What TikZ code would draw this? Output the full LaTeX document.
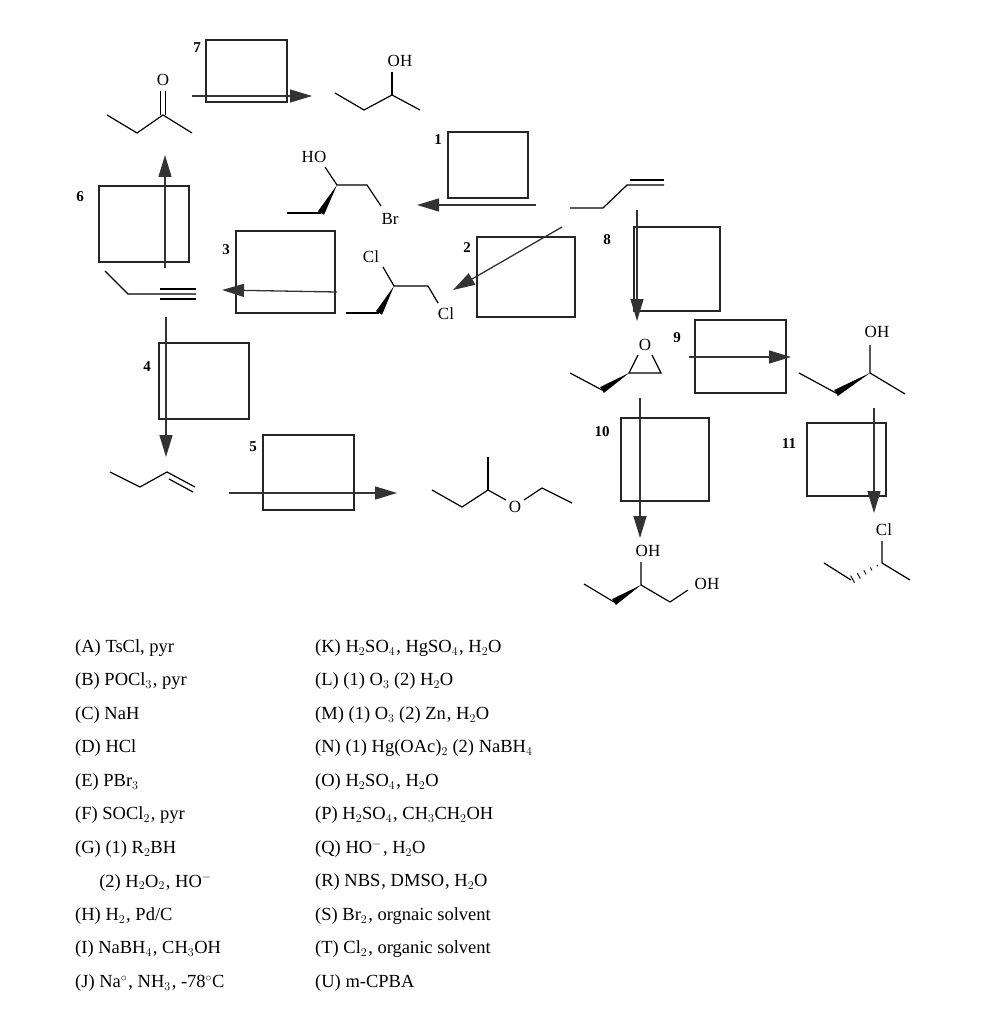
\documentclass[tikz,border=0pt]{standalone}
\usepackage{fontspec}
\setmainfont{Liberation Serif}
\usetikzlibrary{arrows.meta,calc}
\tikzset{
  box/.style={draw=black!85,line width=1.3pt},
  rxn/.style={draw=black!80,line width=1.3pt,-{Triangle[length=22pt,width=13pt]}},
  bond/.style={line width=1.2pt},
  atom/.style={inner sep=0pt,font=\fontsize{17}{17}\selectfont},
  num/.style={inner sep=0pt,font=\fontsize{15}{15}\selectfont\bfseries},
  item/.style={anchor=west,inner sep=0pt,font=\fontsize{18.5}{20}\selectfont}
}
\newcommand{\wedgebond}[2]{\fill (#1) -- ($(#2)!3.5pt!90:(#1)$) -- ($(#2)!3.5pt!-90:(#1)$) -- cycle;}
\newcommand{\hashbond}[2]{\foreach \t/\w in {0.15/0.8,0.35/1.6,0.55/2.4,0.75/3.2,0.95/4}
  {\draw[line width=0.9pt] ($(#1)!\t!(#2)!\w pt!90:(#2)$) -- ($(#1)!\t!(#2)!\w pt!-90:(#2)$);}}
\begin{document}
\begin{tikzpicture}[x=1pt,y=-1pt]
  \useasboundingbox[fill=white] (0,0) rectangle (991,1024);

  % reaction boxes
  \draw[box] (206,40) rectangle (287,102);   \node[num] (n7) at (197,48) {7};
  \draw[box] (448,132) rectangle (528,198);  \node[num] (n1) at (438,140) {1};
  \draw[box] (99,186) rectangle (189,262);   \node[num] (n6) at (80,197) {6};
  \draw[box] (236,231) rectangle (335,313);  \node[num] (n3) at (226,250) {3};
  \draw[box] (477,237) rectangle (575,317);  \node[num] (n2) at (467,248) {2};
  \draw[box] (634,227) rectangle (720,311);  \node[num] (n8) at (607,240) {8};
  \draw[box] (695,320) rectangle (786,393);  \node[num] (n9) at (677,338) {9};
  \draw[box] (159,343) rectangle (249,419);  \node[num] (n4) at (147,367) {4};
  \draw[box] (621,418) rectangle (709,501);  \node[num] (n10) at (602,432) {10};
  \draw[box] (807,423) rectangle (886,496);  \node[num] (n11) at (789,444) {11};
  \draw[box] (263,435) rectangle (354,510);  \node[num] (n5) at (253,447) {5};

  % arrow ends
  \coordinate (a7s) at (192,96);  \coordinate (a7e) at (312,96);
  \coordinate (a1s) at (536,205); \coordinate (a1e) at (417,205);
  \coordinate (a6s) at (165,268); \coordinate (a6e) at (165,155);
  \coordinate (a3s) at (337,292); \coordinate (a3e) at (222,290);
  \coordinate (a2s) at (562,227); \coordinate (a2e) at (453,290);
  \coordinate (a8s) at (637,210); \coordinate (a8e) at (637,321);
  \coordinate (a9s) at (689,357); \coordinate (a9e) at (791,357);
  \coordinate (a4s) at (166,317); \coordinate (a4e) at (166,457);
  \coordinate (a10s) at (640,398); \coordinate (a10e) at (640,538);
  \coordinate (a11s) at (874,408); \coordinate (a11e) at (874,513);
  \coordinate (a5s) at (229,493); \coordinate (a5e) at (397,493);
  \foreach \a in {7,1,6,3,2,8,9,4,10,11,5}
    \draw[rxn] (a\a s) -- (a\a e);

  % butan-2-one
  \node[atom] (ko) at (163,80) {O};
  \draw[bond] (107,115) -- (137,133) -- (163,115) -- (192,133);
  \draw[bond] (160.5,115) -- (160.5,91) (165.5,115) -- (165.5,91);

  % butan-2-ol
  \node[atom] (bo) at (400,61) {OH};
  \draw[bond] (335,93) -- (364,110) -- (392,95) -- (420,110);
  \draw[bond] (392,95) -- (392,72);

  % bromohydrin
  \node[atom] (bho) at (314,157) {HO};
  \node[atom] (bbr) at (390,219) {Br};
  \draw[bond] (287,213) -- (321,213);
  \wedgebond{337,185}{321,213}
  \draw[bond] (325,167) -- (337,185) -- (367,185) -- (381,206);

  % but-1-ene (right)
  \draw[bond] (570,208) -- (603,208) -- (627,185) -- (664,185);
  \draw[bond] (630,180) -- (664,180);

  % but-1-yne
  \draw[bond] (105,271) -- (128,294) -- (196,294);
  \draw[bond] (160,289) -- (196,289) (160,299) -- (196,299);

  % dichloride
  \node[atom] (dc1) at (371,257) {Cl};
  \node[atom] (dc2) at (446,314) {Cl};
  \draw[bond] (346,313) -- (379,313);
  \wedgebond{394,286}{379,313}
  \draw[bond] (383,267) -- (394,286) -- (428,286) -- (438,303);

  % epoxide
  \node[atom] (eo) at (645,345) {O};
  \draw[bond] (570,373) -- (602,390);
  \wedgebond{629,373}{602,390}
  \draw[bond] (638,355) -- (629,373) -- (661,373) -- (652,355);

  % (S)-butan-2-ol
  \node[atom] (so) at (877,332) {OH};
  \draw[bond] (799,373) -- (836,393);
  \wedgebond{870,373}{836,393}
  \draw[bond] (870,373) -- (905,394) (870,373) -- (870,345);

  % diol
  \node[atom] (do1) at (648,551) {OH};
  \node[atom] (do2) at (707,584) {OH};
  \draw[bond] (584,584) -- (614,602);
  \wedgebond{641,585}{614,602}
  \draw[bond] (641,585) -- (641,562) (641,585) -- (670,602) -- (688,590);

  % 2-chlorobutane
  \node[atom] (cc) at (884,530) {Cl};
  \draw[bond] (824,563) -- (851,580);
  \hashbond{882,563}{851,580}
  \draw[bond] (882,563) -- (910,580) (882,563) -- (882,541);

  % but-1-ene (left)
  \draw[bond] (110,472) -- (140,487) -- (167,472) -- (195,487);
  \draw[bond] (169,479) -- (193,492);

  % sec-butyl ethyl ether
  \node[atom] (eto) at (515,507) {O};
  \draw[bond] (432,490) -- (462,507) -- (488,490) -- (506,500);
  \draw[bond] (488,490) -- (488,457);
  \draw[bond] (524,500) -- (542,488) -- (572,503);

  % reagents
  \foreach \txt [count=\i from 0] in {
      {(A) TsCl, pyr}, {(B) POCl$_3$\kern1pt, pyr}, {(C) NaH}, {(D) HCl}, {(E) PBr$_3$},
      {(F) SOCl$_2$\kern1pt, pyr}, {(G) (1) R$_2$BH}, {\hspace*{1.3em}(2) H$_2$O$_2$\kern1pt, HO$^{-}$},
      {(H) H$_2$\kern1pt, Pd/C}, {(I) NaBH$_4$\kern1pt, CH$_3$OH}, {(J) Na$^{\circ}$\kern1pt, NH$_3$\kern1pt, -78$^{\circ}$C}}
    \node[item] (l\i) at (75,648+33.5*\i) {\txt};
  \foreach \txt [count=\i from 0] in {
      {(K) H$_2$SO$_4$\kern1pt, HgSO$_4$\kern1pt, H$_2$O}, {(L) (1) O$_3$ (2) H$_2$O},
      {(M) (1) O$_3$ (2) Zn\kern1pt, H$_2$O}, {(N) (1) Hg(OAc)$_2$ (2) NaBH$_4$},
      {(O) H$_2$SO$_4$\kern1pt, H$_2$O}, {(P) H$_2$SO$_4$\kern1pt, CH$_3$CH$_2$OH},
      {(Q) HO$^{-}$\kern1pt, H$_2$O}, {(R) NBS\kern1pt, DMSO\kern1pt, H$_2$O},
      {(S) Br$_2$\kern1pt, orgnaic solvent}, {(T) Cl$_2$\kern1pt, organic solvent}, {(U) m-CPBA}}
    \node[item] (r\i) at (315,648+33.5*\i) {\txt};
\end{tikzpicture}
\end{document}
